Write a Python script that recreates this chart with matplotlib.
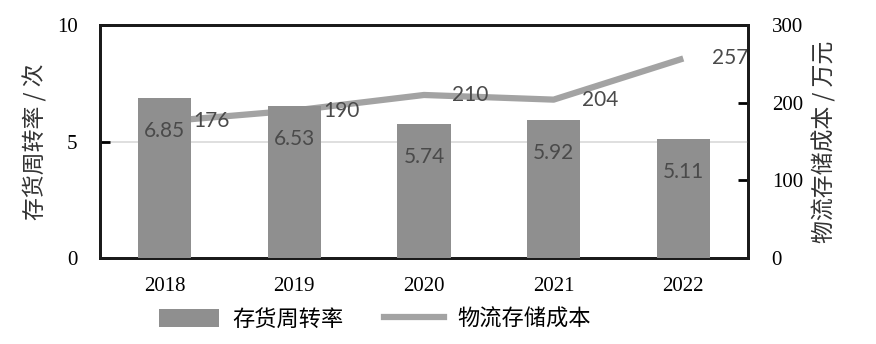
import numpy as np
import matplotlib.pyplot as plt
from matplotlib.lines import Line2D
from matplotlib.patches import Patch

plt.rcParams['font.family'] = ['Noto Sans CJK SC', 'DejaVu Sans']

# data
years = ['2018', '2019', '2020', '2021', '2022']
turnover = [6.85, 6.53, 5.74, 5.92, 5.11]      # 存货周转率 / 次
cost = [176, 190, 210, 204, 257]               # 物流存储成本 / 万元

bar_color = '#8f8f8f'
line_color = '#a3a3a3'
label_color = '#4a4a4a'
serif = ['Liberation Serif', 'DejaVu Serif']

fig = plt.figure(figsize=(8.76, 3.44), dpi=100)
ax = fig.add_axes([0.114, 0.25, 0.74, 0.677])
ax2 = ax.twinx()

x = np.arange(len(years))

# line on the secondary axis, drawn behind the bars
ax2.plot(x, cost, color=line_color, lw=4.5, solid_capstyle='butt', zorder=1)
for xi, v in zip(x, cost):
    ax2.text(xi + 0.36, v, str(v), color=label_color, fontsize=15,
             family=['Lato', 'DejaVu Sans'], va='center', ha='center', zorder=4)
ax2.set_ylim(0, 300)
ax2.set_yticks([0, 100, 200, 300])

# bars on top of the line
ax.set_zorder(ax2.get_zorder() + 1)
ax.patch.set_visible(False)
ax.bar(x, turnover, width=0.41, color=bar_color, zorder=3)
for xi, v in zip(x, turnover):
    ax.text(xi, v - 1.4, f'{v:.2f}', color=label_color, fontsize=15,
            family=['Lato', 'DejaVu Sans'], ha='center', va='center', zorder=4)
ax.axhline(5, color='#d9d9d9', lw=1.2, zorder=0)
ax.set_ylim(0, 10)
ax.set_yticks([0, 5, 10])
ax.set_xlim(-0.5, 4.5)
ax.set_xticks(x)
ax.set_xticklabels(years)

for a in (ax, ax2):
    for s in a.spines.values():
        s.set_linewidth(2)
        s.set_color('#1a1a1a')
    a.tick_params(direction='in', length=7, width=2, labelsize=15)
    for lab in a.get_yticklabels() + a.get_xticklabels():
        lab.set_family(serif)
ax.tick_params(axis='x', length=0, pad=14)
ax.tick_params(axis='y', pad=16)
ax2.tick_params(axis='y', pad=17)

ax.set_ylabel('存货周转率 / 次', fontsize=16.5, color='#333333', labelpad=7)
ax2.set_ylabel('物流存储成本 / 万元', fontsize=16.5, color='#333333', labelpad=7)

handles = [Patch(facecolor=bar_color, edgecolor='none'),
           Line2D([], [], color=line_color, lw=4.5)]
fig.legend(handles, ['存货周转率', '物流存储成本'], loc='center',
           bbox_to_anchor=(0.428, 0.072), ncol=2, frameon=False,
           fontsize=16, handlelength=2.7, handleheight=0.9, columnspacing=1.8,
           handletextpad=0.6)

fig.savefig('out.png', dpi=100, facecolor='white')
